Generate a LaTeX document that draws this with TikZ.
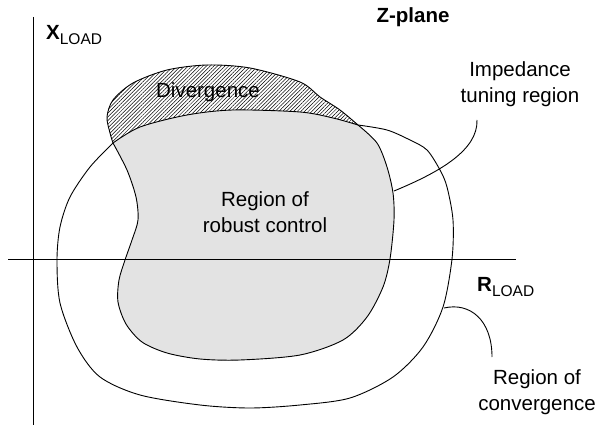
\documentclass[tikz,border=0pt]{standalone}
\usepackage{fontspec}
\setmainfont{Liberation Sans}
\usetikzlibrary{patterns.meta}
\tikzset{
  label/.style={inner sep=0pt, align=center, font=\fontsize{20.5}{25.5}\selectfont},
  axis/.style={line width=0.9pt},
  contour/.style={line width=0.9pt},
  leader/.style={line width=0.9pt},
}
\newcommand{\subload}{{\fontsize{15.5}{16}\selectfont\raisebox{-4.5pt}{LOAD}}}
\begin{document}
\begin{tikzpicture}[x=1pt,y=-1pt]
  \useasboundingbox (0,0) rectangle (599,427);
  % hatched divergence region (whole inner contour)
  \fill[pattern={Lines[angle=45,distance=2.6pt,line width=0.5pt]}]
    plot[smooth] coordinates {(113,143) (110,133) (107,117) (113,100) (133,83) (167,70)
      (207,65) (250,68) (300,82) (320,97) (340,110) (358,125)}
    -- plot[smooth] coordinates {(358,125) (377,143) (387,167) (393,193) (394,220) (390,259)
      (383,287) (367,317) (343,340) (300,355) (240,360) (200,359) (167,353) (142,342)
      (126,324) (118,302) (119,280) (125,260) (132,240) (138,220) (136,197) (127,170) (113,143)}
    -- cycle;
  % region of robust control
  \fill[black!11]
    plot[smooth] coordinates {(113,143) (140,127) (187,115) (233,110) (300,112) (333,118) (358,125)}
    -- plot[smooth] coordinates {(358,125) (377,143) (387,167) (393,193) (394,220) (390,259)
      (383,287) (367,317) (343,340) (300,355) (240,360) (200,359) (167,353) (142,342)
      (126,324) (118,302) (119,280) (125,260) (132,240) (138,220) (136,197) (127,170) (113,143)}
    -- cycle;
  % axes
  \coordinate (ytop) at (33,17);
  \coordinate (ybot) at (33,425);
  \coordinate (xleft) at (8,259);
  \coordinate (xright) at (516,259);
  \draw[axis] (ytop) -- (ybot);
  \draw[axis] (xleft) -- (xright);
  % inner contour
  \draw[contour]
    plot[smooth] coordinates {(113,143) (110,133) (107,117) (113,100) (133,83) (167,70)
      (207,65) (250,68) (300,82) (320,97) (340,110) (358,125)}
    -- plot[smooth] coordinates {(358,125) (377,143) (387,167) (393,193) (394,220) (390,259)
      (383,287) (367,317) (343,340) (300,355) (240,360) (200,359) (167,353) (142,342)
      (126,324) (118,302) (119,280) (125,260) (132,240) (138,220) (136,197) (127,170) (113,143)};
  % outer contour (region of convergence)
  \draw[contour]
    plot[smooth] coordinates {(113,143) (140,127) (187,115) (233,110) (300,112) (333,118) (358,125)}
    -- plot[smooth] coordinates {(358,125) (387,130) (410,140) (427,150) (440,170) (447,187)
      (453,220) (452,259) (443,307) (423,347) (393,377) (350,398) (300,405) (250,408)
      (200,405) (140,395) (100,377) (77,347) (60,303) (57,260) (60,227) (70,197) (90,167) (113,143)};
  % labels
  \node[label, font=\fontsize{20.5}{25.5}\selectfont\bfseries] (zplane) at (413,17) {Z-plane};
  \node[label, anchor=base west] (xload) at (46,40) {\textbf{X}\subload};
  \node[label, anchor=base west] (rload) at (477,292) {\textbf{R}\subload};
  \node[label] (diverg) at (208,92) {Divergence};
  \node[label] (robust) at (265,212) {Region of\\robust control};
  \node[label] (tuning) at (520,84) {Impedance\\tuning region};
  \node[label] (converg) at (537,392) {Region of\\convergence};
  % leaders
  \coordinate (tunepoint) at (394,191);
  \coordinate (tuneend) at (477,120);
  \coordinate (convpoint) at (444,308);
  \coordinate (convend) at (492,357);
  \draw[leader] (tunepoint) .. controls (440,172) and (478,150) .. (tuneend);
  \draw[leader] (convpoint) .. controls (470,302) and (492,320) .. (convend);
\end{tikzpicture}
\end{document}
